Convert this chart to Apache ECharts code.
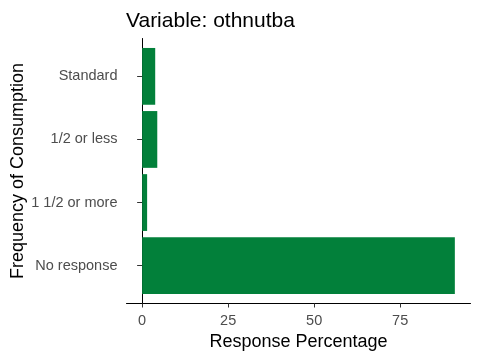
<!DOCTYPE html>
<html>
<head>
<meta charset="utf-8">
<script src="https://cdn.jsdelivr.net/npm/echarts@6/dist/echarts.min.js"></script>
<style>html,body{margin:0;padding:0;background:#fff}#c{width:480px;height:360px}</style>
</head>
<body>
<div id="c"></div>
<script>
const categories = ["Standard", "1/2 or less", "1 1/2 or more", "No response"];
const values = [3.8, 4.4, 1.45, 90.9];
const xTicks = [0, 25, 50, 75];
const titleText = "Variable: othnutba";
const xTitle = "Response Percentage";
const yTitle = "Frequency of Consumption";

const data = values.map((v, i) => [v, i + 1]);
const font = "Liberation Sans, Arial, sans-serif";
const chart = echarts.init(document.getElementById('c'), null, {renderer: 'canvas'});
chart.setOption({
  animation: false,
  backgroundColor: '#fff',
  title: {
    text: titleText, left: 121, top: 6,
    textStyle: {fontFamily: font, fontSize: 21, fontWeight: 'normal', color: '#000'}
  },
  graphic: [{
    type: 'text', x: 18, y: 171, rotation: Math.PI / 2,
    style: {text: yTitle, font: '18px ' + font, fill: '#000', align: 'center', verticalAlign: 'middle'}
  }],
  grid: {left: 126.5, right: 9.5, top: 38.5, bottom: 56.5, containLabel: false, outerBoundsMode: 'none'},
  xAxis: {
    type: 'value', min: -4.545, max: 95.45,
    name: xTitle, nameLocation: 'middle', nameGap: 30,
    nameTextStyle: {fontFamily: font, fontSize: 18, color: '#000'},
    axisLine: {show: true, lineStyle: {color: '#000', width: 1}},
    axisTick: {show: true, length: 4, customValues: xTicks, lineStyle: {color: '#333'}},
    axisLabel: {customValues: xTicks, fontFamily: font, fontSize: 14.5, color: '#4D4D4D', margin: 10},
    splitLine: {show: false}
  },
  yAxis: {
    type: 'value', min: 0.4, max: 4.6, inverse: true,
    axisLine: {show: true, lineStyle: {color: '#000', width: 1}},
    axisTick: {show: true, length: 5, customValues: [1, 2, 3, 4], lineStyle: {color: '#333'}},
    axisLabel: {customValues: [1, 2, 3, 4], fontFamily: font, fontSize: 14.5, color: '#4D4D4D', margin: 9,
      padding: [3, 0, 0, 0],
      formatter: v => categories[Math.round(v) - 1] || ''},
    splitLine: {show: false}
  },
  series: [{
    type: 'custom',
    data: data,
    encode: {x: 0, y: 1},
    renderItem: function (params, api) {
      const v = api.value(0), c = api.value(1);
      const p0 = api.coord([0, c]);
      const p1 = api.coord([v, c]);
      const h = Math.abs(api.size([0, 0.9])[1]);
      return {
        type: 'rect',
        shape: {x: p0[0], y: p0[1] - h / 2, width: p1[0] - p0[0], height: h},
        style: {fill: '#02803A'}
      };
    }
  }]
});
</script>
</body>
</html>
